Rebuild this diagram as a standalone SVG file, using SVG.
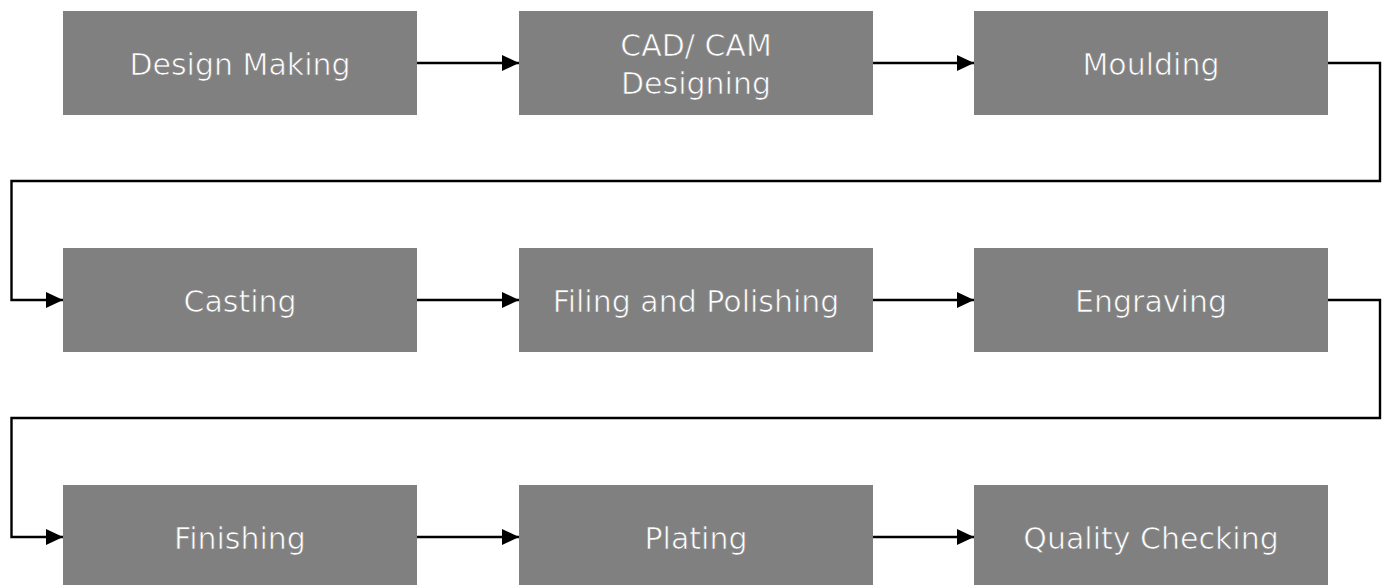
<svg xmlns="http://www.w3.org/2000/svg" width="1386" height="585" viewBox="0 0 1386 585">
<style>
.box{fill:#808080}
.lbl{font-family:"DejaVu Sans","Liberation Sans",sans-serif;font-size:30px;fill:#ffffff;stroke:#808080;stroke-width:0.7;text-anchor:middle}
.conn{fill:none;stroke:#000;stroke-width:2.4}
</style>
<defs>
<marker id="ah" markerUnits="userSpaceOnUse" markerWidth="17" markerHeight="16" refX="17" refY="8" orient="auto">
<path d="M0,0 L17,8 L0,16 Z" fill="#000"/>
</marker>
</defs>
<rect width="1386" height="585" fill="#fff"/>
<g id="n1"><rect class="box" x="63" y="11" width="354" height="104"/><text class="lbl" x="240" y="75">Design Making</text></g>
<g id="n2"><rect class="box" x="519" y="11" width="354" height="104"/><text class="lbl" x="696" y="56">CAD/ CAM</text><text class="lbl" x="696" y="94">Designing</text></g>
<g id="n3"><rect class="box" x="974" y="11" width="354" height="104"/><text class="lbl" x="1151" y="75">Moulding</text></g>
<g id="n4"><rect class="box" x="63" y="248" width="354" height="104"/><text class="lbl" x="240" y="312">Casting</text></g>
<g id="n5"><rect class="box" x="519" y="248" width="354" height="104"/><text class="lbl" x="696" y="312">Filing and Polishing</text></g>
<g id="n6"><rect class="box" x="974" y="248" width="354" height="104"/><text class="lbl" x="1151" y="312">Engraving</text></g>
<g id="n7"><rect class="box" x="63" y="485" width="354" height="104"/><text class="lbl" x="240" y="549">Finishing</text></g>
<g id="n8"><rect class="box" x="519" y="485" width="354" height="104"/><text class="lbl" x="696" y="549">Plating</text></g>
<g id="n9"><rect class="box" x="974" y="485" width="354" height="104"/><text class="lbl" x="1151" y="549">Quality Checking</text></g>
<g id="connectors">
<path class="conn" d="M417,63 H519" marker-end="url(#ah)"/>
<path class="conn" d="M873,63 H974" marker-end="url(#ah)"/>
<path class="conn" d="M1328,63 H1380 V181 H11.5 V300 H63" marker-end="url(#ah)"/>
<path class="conn" d="M417,300 H519" marker-end="url(#ah)"/>
<path class="conn" d="M873,300 H974" marker-end="url(#ah)"/>
<path class="conn" d="M1328,300 H1380 V418 H11.5 V537 H63" marker-end="url(#ah)"/>
<path class="conn" d="M417,537 H519" marker-end="url(#ah)"/>
<path class="conn" d="M873,537 H974" marker-end="url(#ah)"/>
</g>
</svg>
